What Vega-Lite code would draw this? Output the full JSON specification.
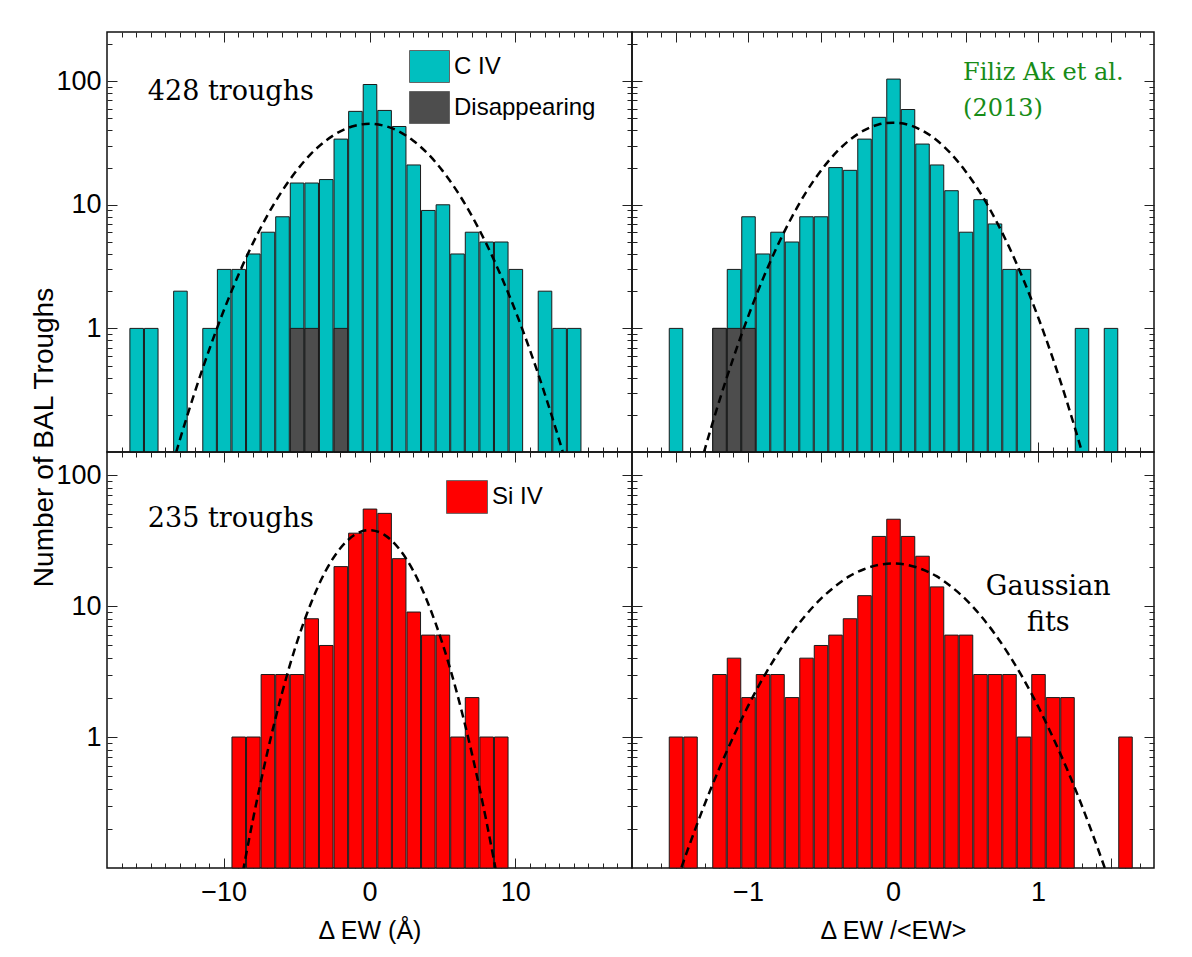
{
  "$schema": "https://vega.github.io/schema/vega-lite/v6.json",
  "padding": {"left": 31, "top": 29, "right": 5, "bottom": 5},
  "background": "white",
  "title": {"text": "Number of BAL Troughs", "orient": "left", "anchor": "middle", "font": "Liberation Sans", "fontSize": 28, "fontWeight": "normal", "color": "#000", "offset": -4, "dx": 49},
  "datasets": {
    "bars": [
      {"panel": "TL", "series": "C IV", "bin_start": -16.5, "bin_end": -15.5, "count": 1},
      {"panel": "TL", "series": "C IV", "bin_start": -15.5, "bin_end": -14.5, "count": 1},
      {"panel": "TL", "series": "C IV", "bin_start": -13.5, "bin_end": -12.5, "count": 2},
      {"panel": "TL", "series": "C IV", "bin_start": -11.5, "bin_end": -10.5, "count": 1},
      {"panel": "TL", "series": "C IV", "bin_start": -10.5, "bin_end": -9.5, "count": 3},
      {"panel": "TL", "series": "C IV", "bin_start": -9.5, "bin_end": -8.5, "count": 3},
      {"panel": "TL", "series": "C IV", "bin_start": -8.5, "bin_end": -7.5, "count": 4},
      {"panel": "TL", "series": "C IV", "bin_start": -7.5, "bin_end": -6.5, "count": 6},
      {"panel": "TL", "series": "C IV", "bin_start": -6.5, "bin_end": -5.5, "count": 8},
      {"panel": "TL", "series": "C IV", "bin_start": -5.5, "bin_end": -4.5, "count": 15},
      {"panel": "TL", "series": "C IV", "bin_start": -4.5, "bin_end": -3.5, "count": 15},
      {"panel": "TL", "series": "C IV", "bin_start": -3.5, "bin_end": -2.5, "count": 16},
      {"panel": "TL", "series": "C IV", "bin_start": -2.5, "bin_end": -1.5, "count": 34},
      {"panel": "TL", "series": "C IV", "bin_start": -1.5, "bin_end": -0.5, "count": 57},
      {"panel": "TL", "series": "C IV", "bin_start": -0.5, "bin_end": 0.5, "count": 94},
      {"panel": "TL", "series": "C IV", "bin_start": 0.5, "bin_end": 1.5, "count": 58},
      {"panel": "TL", "series": "C IV", "bin_start": 1.5, "bin_end": 2.5, "count": 43},
      {"panel": "TL", "series": "C IV", "bin_start": 2.5, "bin_end": 3.5, "count": 21},
      {"panel": "TL", "series": "C IV", "bin_start": 3.5, "bin_end": 4.5, "count": 9},
      {"panel": "TL", "series": "C IV", "bin_start": 4.5, "bin_end": 5.5, "count": 10},
      {"panel": "TL", "series": "C IV", "bin_start": 5.5, "bin_end": 6.5, "count": 4},
      {"panel": "TL", "series": "C IV", "bin_start": 6.5, "bin_end": 7.5, "count": 6},
      {"panel": "TL", "series": "C IV", "bin_start": 7.5, "bin_end": 8.5, "count": 5},
      {"panel": "TL", "series": "C IV", "bin_start": 8.5, "bin_end": 9.5, "count": 5},
      {"panel": "TL", "series": "C IV", "bin_start": 9.5, "bin_end": 10.5, "count": 3},
      {"panel": "TL", "series": "C IV", "bin_start": 11.5, "bin_end": 12.5, "count": 2},
      {"panel": "TL", "series": "C IV", "bin_start": 12.5, "bin_end": 13.5, "count": 1},
      {"panel": "TL", "series": "C IV", "bin_start": 13.5, "bin_end": 14.5, "count": 1},
      {"panel": "TL", "series": "Disappearing", "bin_start": -5.5, "bin_end": -4.5, "count": 1},
      {"panel": "TL", "series": "Disappearing", "bin_start": -4.5, "bin_end": -3.5, "count": 1},
      {"panel": "TL", "series": "Disappearing", "bin_start": -2.5, "bin_end": -1.5, "count": 1},

      {"panel": "TR", "series": "C IV", "bin_start": -1.55, "bin_end": -1.45, "count": 1},
      {"panel": "TR", "series": "C IV", "bin_start": -1.25, "bin_end": -1.15, "count": 1},
      {"panel": "TR", "series": "C IV", "bin_start": -1.15, "bin_end": -1.05, "count": 3},
      {"panel": "TR", "series": "C IV", "bin_start": -1.05, "bin_end": -0.95, "count": 8},
      {"panel": "TR", "series": "C IV", "bin_start": -0.95, "bin_end": -0.85, "count": 4},
      {"panel": "TR", "series": "C IV", "bin_start": -0.85, "bin_end": -0.75, "count": 6},
      {"panel": "TR", "series": "C IV", "bin_start": -0.75, "bin_end": -0.65, "count": 5},
      {"panel": "TR", "series": "C IV", "bin_start": -0.65, "bin_end": -0.55, "count": 8},
      {"panel": "TR", "series": "C IV", "bin_start": -0.55, "bin_end": -0.45, "count": 8},
      {"panel": "TR", "series": "C IV", "bin_start": -0.45, "bin_end": -0.35, "count": 20},
      {"panel": "TR", "series": "C IV", "bin_start": -0.35, "bin_end": -0.25, "count": 19},
      {"panel": "TR", "series": "C IV", "bin_start": -0.25, "bin_end": -0.15, "count": 34},
      {"panel": "TR", "series": "C IV", "bin_start": -0.15, "bin_end": -0.05, "count": 51},
      {"panel": "TR", "series": "C IV", "bin_start": -0.05, "bin_end": 0.05, "count": 104},
      {"panel": "TR", "series": "C IV", "bin_start": 0.05, "bin_end": 0.15, "count": 59},
      {"panel": "TR", "series": "C IV", "bin_start": 0.15, "bin_end": 0.25, "count": 31},
      {"panel": "TR", "series": "C IV", "bin_start": 0.25, "bin_end": 0.35, "count": 21},
      {"panel": "TR", "series": "C IV", "bin_start": 0.35, "bin_end": 0.45, "count": 13},
      {"panel": "TR", "series": "C IV", "bin_start": 0.45, "bin_end": 0.55, "count": 6},
      {"panel": "TR", "series": "C IV", "bin_start": 0.55, "bin_end": 0.65, "count": 11},
      {"panel": "TR", "series": "C IV", "bin_start": 0.65, "bin_end": 0.75, "count": 7},
      {"panel": "TR", "series": "C IV", "bin_start": 0.75, "bin_end": 0.85, "count": 3},
      {"panel": "TR", "series": "C IV", "bin_start": 0.85, "bin_end": 0.95, "count": 3},
      {"panel": "TR", "series": "C IV", "bin_start": 1.25, "bin_end": 1.35, "count": 1},
      {"panel": "TR", "series": "C IV", "bin_start": 1.45, "bin_end": 1.55, "count": 1},
      {"panel": "TR", "series": "Disappearing", "bin_start": -1.25, "bin_end": -1.15, "count": 1},
      {"panel": "TR", "series": "Disappearing", "bin_start": -1.15, "bin_end": -1.05, "count": 1},
      {"panel": "TR", "series": "Disappearing", "bin_start": -1.05, "bin_end": -0.95, "count": 1},

      {"panel": "BL", "series": "Si IV", "bin_start": -9.5, "bin_end": -8.5, "count": 1},
      {"panel": "BL", "series": "Si IV", "bin_start": -8.5, "bin_end": -7.5, "count": 1},
      {"panel": "BL", "series": "Si IV", "bin_start": -7.5, "bin_end": -6.5, "count": 3},
      {"panel": "BL", "series": "Si IV", "bin_start": -6.5, "bin_end": -5.5, "count": 3},
      {"panel": "BL", "series": "Si IV", "bin_start": -5.5, "bin_end": -4.5, "count": 3},
      {"panel": "BL", "series": "Si IV", "bin_start": -4.5, "bin_end": -3.5, "count": 8},
      {"panel": "BL", "series": "Si IV", "bin_start": -3.5, "bin_end": -2.5, "count": 5},
      {"panel": "BL", "series": "Si IV", "bin_start": -2.5, "bin_end": -1.5, "count": 20},
      {"panel": "BL", "series": "Si IV", "bin_start": -1.5, "bin_end": -0.5, "count": 36},
      {"panel": "BL", "series": "Si IV", "bin_start": -0.5, "bin_end": 0.5, "count": 55},
      {"panel": "BL", "series": "Si IV", "bin_start": 0.5, "bin_end": 1.5, "count": 51},
      {"panel": "BL", "series": "Si IV", "bin_start": 1.5, "bin_end": 2.5, "count": 23},
      {"panel": "BL", "series": "Si IV", "bin_start": 2.5, "bin_end": 3.5, "count": 9},
      {"panel": "BL", "series": "Si IV", "bin_start": 3.5, "bin_end": 4.5, "count": 6},
      {"panel": "BL", "series": "Si IV", "bin_start": 4.5, "bin_end": 5.5, "count": 6},
      {"panel": "BL", "series": "Si IV", "bin_start": 5.5, "bin_end": 6.5, "count": 1},
      {"panel": "BL", "series": "Si IV", "bin_start": 6.5, "bin_end": 7.5, "count": 2},
      {"panel": "BL", "series": "Si IV", "bin_start": 7.5, "bin_end": 8.5, "count": 1},
      {"panel": "BL", "series": "Si IV", "bin_start": 8.5, "bin_end": 9.5, "count": 1},

      {"panel": "BR", "series": "Si IV", "bin_start": -1.55, "bin_end": -1.45, "count": 1},
      {"panel": "BR", "series": "Si IV", "bin_start": -1.45, "bin_end": -1.35, "count": 1},
      {"panel": "BR", "series": "Si IV", "bin_start": -1.25, "bin_end": -1.15, "count": 3},
      {"panel": "BR", "series": "Si IV", "bin_start": -1.15, "bin_end": -1.05, "count": 4},
      {"panel": "BR", "series": "Si IV", "bin_start": -1.05, "bin_end": -0.95, "count": 2},
      {"panel": "BR", "series": "Si IV", "bin_start": -0.95, "bin_end": -0.85, "count": 3},
      {"panel": "BR", "series": "Si IV", "bin_start": -0.85, "bin_end": -0.75, "count": 3},
      {"panel": "BR", "series": "Si IV", "bin_start": -0.75, "bin_end": -0.65, "count": 2},
      {"panel": "BR", "series": "Si IV", "bin_start": -0.65, "bin_end": -0.55, "count": 4},
      {"panel": "BR", "series": "Si IV", "bin_start": -0.55, "bin_end": -0.45, "count": 5},
      {"panel": "BR", "series": "Si IV", "bin_start": -0.45, "bin_end": -0.35, "count": 6},
      {"panel": "BR", "series": "Si IV", "bin_start": -0.35, "bin_end": -0.25, "count": 8},
      {"panel": "BR", "series": "Si IV", "bin_start": -0.25, "bin_end": -0.15, "count": 12},
      {"panel": "BR", "series": "Si IV", "bin_start": -0.15, "bin_end": -0.05, "count": 34},
      {"panel": "BR", "series": "Si IV", "bin_start": -0.05, "bin_end": 0.05, "count": 46},
      {"panel": "BR", "series": "Si IV", "bin_start": 0.05, "bin_end": 0.15, "count": 34},
      {"panel": "BR", "series": "Si IV", "bin_start": 0.15, "bin_end": 0.25, "count": 24},
      {"panel": "BR", "series": "Si IV", "bin_start": 0.25, "bin_end": 0.35, "count": 14},
      {"panel": "BR", "series": "Si IV", "bin_start": 0.35, "bin_end": 0.45, "count": 6},
      {"panel": "BR", "series": "Si IV", "bin_start": 0.45, "bin_end": 0.55, "count": 6},
      {"panel": "BR", "series": "Si IV", "bin_start": 0.55, "bin_end": 0.65, "count": 3},
      {"panel": "BR", "series": "Si IV", "bin_start": 0.65, "bin_end": 0.75, "count": 3},
      {"panel": "BR", "series": "Si IV", "bin_start": 0.75, "bin_end": 0.85, "count": 3},
      {"panel": "BR", "series": "Si IV", "bin_start": 0.85, "bin_end": 0.95, "count": 1},
      {"panel": "BR", "series": "Si IV", "bin_start": 0.95, "bin_end": 1.05, "count": 3},
      {"panel": "BR", "series": "Si IV", "bin_start": 1.05, "bin_end": 1.15, "count": 2},
      {"panel": "BR", "series": "Si IV", "bin_start": 1.15, "bin_end": 1.25, "count": 2},
      {"panel": "BR", "series": "Si IV", "bin_start": 1.55, "bin_end": 1.65, "count": 1}
    ],
    "fits": [
      {"panel": "TL", "x": -14, "y": 0.0491}, {"panel": "TL", "x": -13.5, "y": 0.0793}, {"panel": "TL", "x": -13, "y": 0.126},
      {"panel": "TL", "x": -12.5, "y": 0.196}, {"panel": "TL", "x": -12, "y": 0.3}, {"panel": "TL", "x": -11, "y": 0.669},
      {"panel": "TL", "x": -10, "y": 1.39}, {"panel": "TL", "x": -9, "y": 2.69}, {"panel": "TL", "x": -8, "y": 4.87},
      {"panel": "TL", "x": -7, "y": 8.21}, {"panel": "TL", "x": -6, "y": 12.9}, {"panel": "TL", "x": -5, "y": 18.9},
      {"panel": "TL", "x": -4, "y": 25.9}, {"panel": "TL", "x": -3, "y": 33.0}, {"panel": "TL", "x": -2, "y": 39.3},
      {"panel": "TL", "x": -1, "y": 43.6}, {"panel": "TL", "x": 0, "y": 45.2}, {"panel": "TL", "x": 1, "y": 43.6},
      {"panel": "TL", "x": 2, "y": 39.3}, {"panel": "TL", "x": 3, "y": 33.0}, {"panel": "TL", "x": 4, "y": 25.9},
      {"panel": "TL", "x": 5, "y": 18.9}, {"panel": "TL", "x": 6, "y": 12.9}, {"panel": "TL", "x": 7, "y": 8.21},
      {"panel": "TL", "x": 8, "y": 4.87}, {"panel": "TL", "x": 9, "y": 2.69}, {"panel": "TL", "x": 10, "y": 1.39},
      {"panel": "TL", "x": 11, "y": 0.669}, {"panel": "TL", "x": 12, "y": 0.3}, {"panel": "TL", "x": 12.5, "y": 0.196},
      {"panel": "TL", "x": 13, "y": 0.126}, {"panel": "TL", "x": 13.5, "y": 0.0793}, {"panel": "TL", "x": 14, "y": 0.0491},

      {"panel": "TR", "x": -1.4, "y": 0.0387}, {"panel": "TR", "x": -1.3, "y": 0.103}, {"panel": "TR", "x": -1.2, "y": 0.254},
      {"panel": "TR", "x": -1.1, "y": 0.582}, {"panel": "TR", "x": -1.0, "y": 1.24}, {"panel": "TR", "x": -0.9, "y": 2.47},
      {"panel": "TR", "x": -0.8, "y": 4.57}, {"panel": "TR", "x": -0.7, "y": 7.86}, {"panel": "TR", "x": -0.6, "y": 12.6},
      {"panel": "TR", "x": -0.5, "y": 18.7}, {"panel": "TR", "x": -0.4, "y": 25.9}, {"panel": "TR", "x": -0.3, "y": 33.4},
      {"panel": "TR", "x": -0.2, "y": 40.0}, {"panel": "TR", "x": -0.1, "y": 44.6}, {"panel": "TR", "x": 0, "y": 46.2},
      {"panel": "TR", "x": 0.1, "y": 44.6}, {"panel": "TR", "x": 0.2, "y": 40.0}, {"panel": "TR", "x": 0.3, "y": 33.4},
      {"panel": "TR", "x": 0.4, "y": 25.9}, {"panel": "TR", "x": 0.5, "y": 18.7}, {"panel": "TR", "x": 0.6, "y": 12.6},
      {"panel": "TR", "x": 0.7, "y": 7.86}, {"panel": "TR", "x": 0.8, "y": 4.57}, {"panel": "TR", "x": 0.9, "y": 2.47},
      {"panel": "TR", "x": 1.0, "y": 1.24}, {"panel": "TR", "x": 1.1, "y": 0.582}, {"panel": "TR", "x": 1.2, "y": 0.254},
      {"panel": "TR", "x": 1.3, "y": 0.103}, {"panel": "TR", "x": 1.4, "y": 0.0387},

      {"panel": "BL", "x": -9, "y": 0.0599}, {"panel": "BL", "x": -8.5, "y": 0.12}, {"panel": "BL", "x": -8, "y": 0.232},
      {"panel": "BL", "x": -7.5, "y": 0.43}, {"panel": "BL", "x": -7, "y": 0.767}, {"panel": "BL", "x": -6.5, "y": 1.31},
      {"panel": "BL", "x": -6, "y": 2.16}, {"panel": "BL", "x": -5, "y": 5.19}, {"panel": "BL", "x": -4, "y": 10.6},
      {"panel": "BL", "x": -3, "y": 18.6}, {"panel": "BL", "x": -2, "y": 27.6}, {"panel": "BL", "x": -1, "y": 35.1},
      {"panel": "BL", "x": 0, "y": 38.0}, {"panel": "BL", "x": 1, "y": 35.1}, {"panel": "BL", "x": 2, "y": 27.6},
      {"panel": "BL", "x": 3, "y": 18.6}, {"panel": "BL", "x": 4, "y": 10.6}, {"panel": "BL", "x": 5, "y": 5.19},
      {"panel": "BL", "x": 6, "y": 2.16}, {"panel": "BL", "x": 6.5, "y": 1.31}, {"panel": "BL", "x": 7, "y": 0.767},
      {"panel": "BL", "x": 7.5, "y": 0.43}, {"panel": "BL", "x": 8, "y": 0.232}, {"panel": "BL", "x": 8.5, "y": 0.12},
      {"panel": "BL", "x": 9, "y": 0.0599},

      {"panel": "BR", "x": -1.6, "y": 0.0342}, {"panel": "BR", "x": -1.5, "y": 0.0746}, {"panel": "BR", "x": -1.4, "y": 0.154},
      {"panel": "BR", "x": -1.3, "y": 0.304}, {"panel": "BR", "x": -1.2, "y": 0.569}, {"panel": "BR", "x": -1.1, "y": 1.01},
      {"panel": "BR", "x": -1.0, "y": 1.72}, {"panel": "BR", "x": -0.9, "y": 2.77}, {"panel": "BR", "x": -0.8, "y": 4.24},
      {"panel": "BR", "x": -0.7, "y": 6.18}, {"panel": "BR", "x": -0.6, "y": 8.56}, {"panel": "BR", "x": -0.5, "y": 11.3},
      {"panel": "BR", "x": -0.4, "y": 14.1}, {"panel": "BR", "x": -0.3, "y": 16.9}, {"panel": "BR", "x": -0.2, "y": 19.1},
      {"panel": "BR", "x": -0.1, "y": 20.6}, {"panel": "BR", "x": 0, "y": 21.1}, {"panel": "BR", "x": 0.1, "y": 20.6},
      {"panel": "BR", "x": 0.2, "y": 19.1}, {"panel": "BR", "x": 0.3, "y": 16.9}, {"panel": "BR", "x": 0.4, "y": 14.1},
      {"panel": "BR", "x": 0.5, "y": 11.3}, {"panel": "BR", "x": 0.6, "y": 8.56}, {"panel": "BR", "x": 0.7, "y": 6.18},
      {"panel": "BR", "x": 0.8, "y": 4.24}, {"panel": "BR", "x": 0.9, "y": 2.77}, {"panel": "BR", "x": 1.0, "y": 1.72},
      {"panel": "BR", "x": 1.1, "y": 1.01}, {"panel": "BR", "x": 1.2, "y": 0.569}, {"panel": "BR", "x": 1.3, "y": 0.304},
      {"panel": "BR", "x": 1.4, "y": 0.154}, {"panel": "BR", "x": 1.5, "y": 0.0746}, {"panel": "BR", "x": 1.6, "y": 0.0342}
    ]
  },
  "columns": 2,
  "spacing": 0,
  "bounds": "flush",
  "resolve": {"scale": {"color": "independent"}, "legend": {"color": "independent"}},
  "concat": [
    {
      "width": 525, "height": 420,
      "layer": [
        {
          "data": {"name": "bars"},
          "transform": [{"filter": "datum.panel == 'TL'"}],
          "mark": {"type": "bar", "stroke": "#1a1a1a", "strokeWidth": 1},
          "encoding": {
            "x": {"field": "bin_start", "type": "quantitative", "bin": "binned", "scale": {"domain": [-18, 18], "nice": false, "zero": false},
              "axis": {"orient": "bottom", "values": [-17,-16,-15,-14,-13,-12,-11,-10,-9,-8,-7,-6,-5,-4,-3,-2,-1,0,1,2,3,4,5,6,7,8,9,10,11,12,13,14,15,16,17],
                "tickSize": {"condition": {"test": "datum.value % 10 == 0", "value": -10}, "value": -5}, "labels": false, "title": null}},
            "x2": {"field": "bin_end"},
            "y": {"field": "count", "type": "quantitative", "stack": null, "scale": {"type": "log", "domain": [0.1, 250], "nice": false},
              "axis": {"orient": "left", "values": [0.2,0.3,0.4,0.5,0.6,0.7,0.8,0.9,1,2,3,4,5,6,7,8,9,10,20,30,40,50,60,70,80,90,100,200],
                "tickSize": {"condition": {"test": "datum.value == 1 || datum.value == 10 || datum.value == 100", "value": -10}, "value": -5},
                "labelExpr": "datum.value == 1 || datum.value == 10 || datum.value == 100 ? format(datum.value, 'd') : ''", "labelPadding": 16, "title": null}},
            "color": {"field": "series", "type": "nominal", "scale": {"domain": ["C IV", "Disappearing"], "range": ["#00BFBF", "#4D4D4D"]},
              "legend": {"orient": "none", "legendX": 302, "legendY": 14, "title": null, "symbolType": "M-1,-0.8H1V0.8H-1Z", "symbolSize": 1600, "symbolStrokeColor": "#666", "symbolStrokeWidth": 1, "labelFont": "Liberation Sans", "labelFontSize": 24, "labelColor": "#000", "labelOffset": 4, "rowPadding": 2, "padding": 0}}
          }
        },
        {
          "data": {"name": "fits"},
          "transform": [{"filter": "datum.panel == 'TL'"}],
          "mark": {"type": "line", "color": "#000", "strokeWidth": 2.5, "strokeDash": [8, 5], "interpolate": "monotone", "clip": true},
          "encoding": {
            "x": {"field": "x", "type": "quantitative",
              "axis": {"orient": "top", "values": [-17,-16,-15,-14,-13,-12,-11,-10,-9,-8,-7,-6,-5,-4,-3,-2,-1,0,1,2,3,4,5,6,7,8,9,10,11,12,13,14,15,16,17],
                "tickSize": {"condition": {"test": "datum.value % 10 == 0", "value": -10}, "value": -5}, "labels": false, "title": null}},
            "y": {"field": "y", "type": "quantitative",
              "axis": {"orient": "right", "values": [0.2,0.3,0.4,0.5,0.6,0.7,0.8,0.9,1,2,3,4,5,6,7,8,9,10,20,30,40,50,60,70,80,90,100,200],
                "tickSize": {"condition": {"test": "datum.value == 1 || datum.value == 10 || datum.value == 100", "value": -10}, "value": -5}, "labels": false, "title": null}}
          }
        },
        {
          "data": {"values": [{}]},
          "mark": {"type": "text", "text": "428 troughs", "font": "DejaVu Serif", "fontSize": 27, "align": "left", "baseline": "alphabetic", "color": "#000"},
          "encoding": {"x": {"datum": -15.2, "type": "quantitative", "axis": null}, "y": {"datum": 70, "type": "quantitative", "axis": null}}
        }
      ],
      "resolve": {"axis": {"x": "independent", "y": "independent"}}
    },
    {
      "width": 522, "height": 420,
      "layer": [
        {
          "data": {"name": "bars"},
          "transform": [{"filter": "datum.panel == 'TR'"}],
          "mark": {"type": "bar", "stroke": "#1a1a1a", "strokeWidth": 1},
          "encoding": {
            "x": {"field": "bin_start", "type": "quantitative", "bin": "binned", "scale": {"domain": [-1.8, 1.8], "nice": false, "zero": false},
              "axis": {"orient": "bottom", "values": [-1.7,-1.6,-1.5,-1.4,-1.3,-1.2,-1.1,-1.0,-0.9,-0.8,-0.7,-0.6,-0.5,-0.4,-0.3,-0.2,-0.1,0,0.1,0.2,0.3,0.4,0.5,0.6,0.7,0.8,0.9,1.0,1.1,1.2,1.3,1.4,1.5,1.6,1.7],
                "tickSize": {"condition": {"test": "abs(datum.value * 2 - round(datum.value * 2)) < 0.001", "value": -10}, "value": -5}, "labels": false, "title": null}},
            "x2": {"field": "bin_end"},
            "y": {"field": "count", "type": "quantitative", "stack": null, "scale": {"type": "log", "domain": [0.1, 250], "nice": false},
              "axis": {"orient": "left", "values": [0.2,0.3,0.4,0.5,0.6,0.7,0.8,0.9,1,2,3,4,5,6,7,8,9,10,20,30,40,50,60,70,80,90,100,200],
                "tickSize": {"condition": {"test": "datum.value == 1 || datum.value == 10 || datum.value == 100", "value": -10}, "value": -5}, "labels": false, "title": null}},
            "color": {"field": "series", "type": "nominal", "scale": {"domain": ["C IV", "Disappearing"], "range": ["#00BFBF", "#4D4D4D"]}, "legend": null}
          }
        },
        {
          "data": {"name": "fits"},
          "transform": [{"filter": "datum.panel == 'TR'"}],
          "mark": {"type": "line", "color": "#000", "strokeWidth": 2.5, "strokeDash": [8, 5], "interpolate": "monotone", "clip": true},
          "encoding": {
            "x": {"field": "x", "type": "quantitative",
              "axis": {"orient": "top", "values": [-1.7,-1.6,-1.5,-1.4,-1.3,-1.2,-1.1,-1.0,-0.9,-0.8,-0.7,-0.6,-0.5,-0.4,-0.3,-0.2,-0.1,0,0.1,0.2,0.3,0.4,0.5,0.6,0.7,0.8,0.9,1.0,1.1,1.2,1.3,1.4,1.5,1.6,1.7],
                "tickSize": {"condition": {"test": "abs(datum.value * 2 - round(datum.value * 2)) < 0.001", "value": -10}, "value": -5}, "labels": false, "title": null}},
            "y": {"field": "y", "type": "quantitative",
              "axis": {"orient": "right", "values": [0.2,0.3,0.4,0.5,0.6,0.7,0.8,0.9,1,2,3,4,5,6,7,8,9,10,20,30,40,50,60,70,80,90,100,200],
                "tickSize": {"condition": {"test": "datum.value == 1 || datum.value == 10 || datum.value == 100", "value": -10}, "value": -5}, "labels": false, "title": null}}
          }
        },
        {
          "data": {"values": [{}]},
          "mark": {"type": "text", "text": "Filiz Ak et al.", "font": "DejaVu Serif", "fontSize": 24, "align": "left", "baseline": "alphabetic", "color": "#178C17"},
          "encoding": {"x": {"datum": 0.483, "type": "quantitative", "axis": null}, "y": {"datum": 102, "type": "quantitative", "axis": null}}
        },
        {
          "data": {"values": [{}]},
          "mark": {"type": "text", "text": "(2013)", "font": "DejaVu Serif", "fontSize": 24, "align": "left", "baseline": "alphabetic", "color": "#178C17"},
          "encoding": {"x": {"datum": 0.483, "type": "quantitative", "axis": null}, "y": {"datum": 52.7, "type": "quantitative", "axis": null}}
        }
      ],
      "resolve": {"axis": {"x": "independent", "y": "independent"}}
    },
    {
      "width": 525, "height": 416,
      "layer": [
        {
          "data": {"name": "bars"},
          "transform": [{"filter": "datum.panel == 'BL'"}],
          "mark": {"type": "bar", "stroke": "#1a1a1a", "strokeWidth": 1},
          "encoding": {
            "x": {"field": "bin_start", "type": "quantitative", "bin": "binned", "scale": {"domain": [-18, 18], "nice": false, "zero": false},
              "axis": {"orient": "bottom", "values": [-17,-16,-15,-14,-13,-12,-11,-10,-9,-8,-7,-6,-5,-4,-3,-2,-1,0,1,2,3,4,5,6,7,8,9,10,11,12,13,14,15,16,17],
                "tickSize": {"condition": {"test": "datum.value % 10 == 0", "value": -10}, "value": -5},
                "labelExpr": "datum.value % 10 == 0 ? format(datum.value, 'd') : ''", "labelPadding": 21, "title": "Δ EW (Å)", "titlePadding": 8}},
            "x2": {"field": "bin_end"},
            "y": {"field": "count", "type": "quantitative", "stack": null, "scale": {"type": "log", "domain": [0.1, 150], "nice": false},
              "axis": {"orient": "left", "values": [0.2,0.3,0.4,0.5,0.6,0.7,0.8,0.9,1,2,3,4,5,6,7,8,9,10,20,30,40,50,60,70,80,90,100],
                "tickSize": {"condition": {"test": "datum.value == 1 || datum.value == 10 || datum.value == 100", "value": -10}, "value": -5},
                "labelExpr": "datum.value == 1 || datum.value == 10 || datum.value == 100 ? format(datum.value, 'd') : ''", "labelPadding": 16, "title": null}},
            "color": {"field": "series", "type": "nominal", "scale": {"domain": ["Si IV"], "range": ["#FF0000"]},
              "legend": {"orient": "none", "legendX": 339, "legendY": 24, "title": null, "symbolType": "M-1,-0.8H1V0.8H-1Z", "symbolSize": 1681, "symbolStrokeColor": "#666", "symbolStrokeWidth": 1, "labelFont": "Liberation Sans", "labelFontSize": 24, "labelColor": "#000", "labelOffset": 4, "padding": 0}}
          }
        },
        {
          "data": {"name": "fits"},
          "transform": [{"filter": "datum.panel == 'BL'"}],
          "mark": {"type": "line", "color": "#000", "strokeWidth": 2.5, "strokeDash": [8, 5], "interpolate": "monotone", "clip": true},
          "encoding": {
            "x": {"field": "x", "type": "quantitative",
              "axis": {"orient": "top", "values": [-17,-16,-15,-14,-13,-12,-11,-10,-9,-8,-7,-6,-5,-4,-3,-2,-1,0,1,2,3,4,5,6,7,8,9,10,11,12,13,14,15,16,17],
                "tickSize": {"condition": {"test": "datum.value % 10 == 0", "value": -10}, "value": -5}, "labels": false, "title": null}},
            "y": {"field": "y", "type": "quantitative",
              "axis": {"orient": "right", "values": [0.2,0.3,0.4,0.5,0.6,0.7,0.8,0.9,1,2,3,4,5,6,7,8,9,10,20,30,40,50,60,70,80,90,100],
                "tickSize": {"condition": {"test": "datum.value == 1 || datum.value == 10 || datum.value == 100", "value": -10}, "value": -5}, "labels": false, "title": null}}
          }
        },
        {
          "data": {"values": [{}]},
          "mark": {"type": "text", "text": "235 troughs", "font": "DejaVu Serif", "fontSize": 27, "align": "left", "baseline": "alphabetic", "color": "#000"},
          "encoding": {"x": {"datum": -15.2, "type": "quantitative", "axis": null}, "y": {"datum": 40, "type": "quantitative", "axis": null}}
        }
      ],
      "resolve": {"axis": {"x": "independent", "y": "independent"}}
    },
    {
      "width": 522, "height": 416,
      "layer": [
        {
          "data": {"name": "bars"},
          "transform": [{"filter": "datum.panel == 'BR'"}],
          "mark": {"type": "bar", "stroke": "#1a1a1a", "strokeWidth": 1},
          "encoding": {
            "x": {"field": "bin_start", "type": "quantitative", "bin": "binned", "scale": {"domain": [-1.8, 1.8], "nice": false, "zero": false},
              "axis": {"orient": "bottom", "values": [-1.7,-1.6,-1.5,-1.4,-1.3,-1.2,-1.1,-1.0,-0.9,-0.8,-0.7,-0.6,-0.5,-0.4,-0.3,-0.2,-0.1,0,0.1,0.2,0.3,0.4,0.5,0.6,0.7,0.8,0.9,1.0,1.1,1.2,1.3,1.4,1.5,1.6,1.7],
                "tickSize": {"condition": {"test": "abs(datum.value * 2 - round(datum.value * 2)) < 0.001", "value": -10}, "value": -5},
                "labelExpr": "abs(datum.value - round(datum.value)) < 0.001 ? format(round(datum.value), 'd') : ''", "labelPadding": 21, "title": "Δ EW /<EW>", "titlePadding": 8}},
            "x2": {"field": "bin_end"},
            "y": {"field": "count", "type": "quantitative", "stack": null, "scale": {"type": "log", "domain": [0.1, 150], "nice": false},
              "axis": {"orient": "left", "values": [0.2,0.3,0.4,0.5,0.6,0.7,0.8,0.9,1,2,3,4,5,6,7,8,9,10,20,30,40,50,60,70,80,90,100],
                "tickSize": {"condition": {"test": "datum.value == 1 || datum.value == 10 || datum.value == 100", "value": -10}, "value": -5}, "labels": false, "title": null}},
            "color": {"field": "series", "type": "nominal", "scale": {"domain": ["Si IV"], "range": ["#FF0000"]}, "legend": null}
          }
        },
        {
          "data": {"name": "fits"},
          "transform": [{"filter": "datum.panel == 'BR'"}],
          "mark": {"type": "line", "color": "#000", "strokeWidth": 2.5, "strokeDash": [8, 5], "interpolate": "monotone", "clip": true},
          "encoding": {
            "x": {"field": "x", "type": "quantitative",
              "axis": {"orient": "top", "values": [-1.7,-1.6,-1.5,-1.4,-1.3,-1.2,-1.1,-1.0,-0.9,-0.8,-0.7,-0.6,-0.5,-0.4,-0.3,-0.2,-0.1,0,0.1,0.2,0.3,0.4,0.5,0.6,0.7,0.8,0.9,1.0,1.1,1.2,1.3,1.4,1.5,1.6,1.7],
                "tickSize": {"condition": {"test": "abs(datum.value * 2 - round(datum.value * 2)) < 0.001", "value": -10}, "value": -5}, "labels": false, "title": null}},
            "y": {"field": "y", "type": "quantitative",
              "axis": {"orient": "right", "values": [0.2,0.3,0.4,0.5,0.6,0.7,0.8,0.9,1,2,3,4,5,6,7,8,9,10,20,30,40,50,60,70,80,90,100],
                "tickSize": {"condition": {"test": "datum.value == 1 || datum.value == 10 || datum.value == 100", "value": -10}, "value": -5}, "labels": false, "title": null}}
          }
        },
        {
          "data": {"values": [{}]},
          "mark": {"type": "text", "text": "Gaussian", "font": "DejaVu Serif", "fontSize": 27, "align": "center", "baseline": "alphabetic", "color": "#000"},
          "encoding": {"x": {"datum": 1.071, "type": "quantitative", "axis": null}, "y": {"datum": 12.2, "type": "quantitative", "axis": null}}
        },
        {
          "data": {"values": [{}]},
          "mark": {"type": "text", "text": "fits", "font": "DejaVu Serif", "fontSize": 27, "align": "center", "baseline": "alphabetic", "color": "#000"},
          "encoding": {"x": {"datum": 1.071, "type": "quantitative", "axis": null}, "y": {"datum": 6.4, "type": "quantitative", "axis": null}}
        }
      ],
      "resolve": {"axis": {"x": "independent", "y": "independent"}}
    }
  ],
  "config": {
    "view": {"stroke": "#111", "strokeWidth": 1.5},
    "axis": {"domain": false, "grid": false, "tickColor": "#222", "tickWidth": 1, "labelFont": "Liberation Sans", "labelFontSize": 27, "labelColor": "#000",
      "titleFont": "Liberation Sans", "titleFontSize": 25, "titleFontWeight": "normal", "titleColor": "#000", "labelFlush": false, "labelOverlap": false, "labelBound": false}
  }
}
